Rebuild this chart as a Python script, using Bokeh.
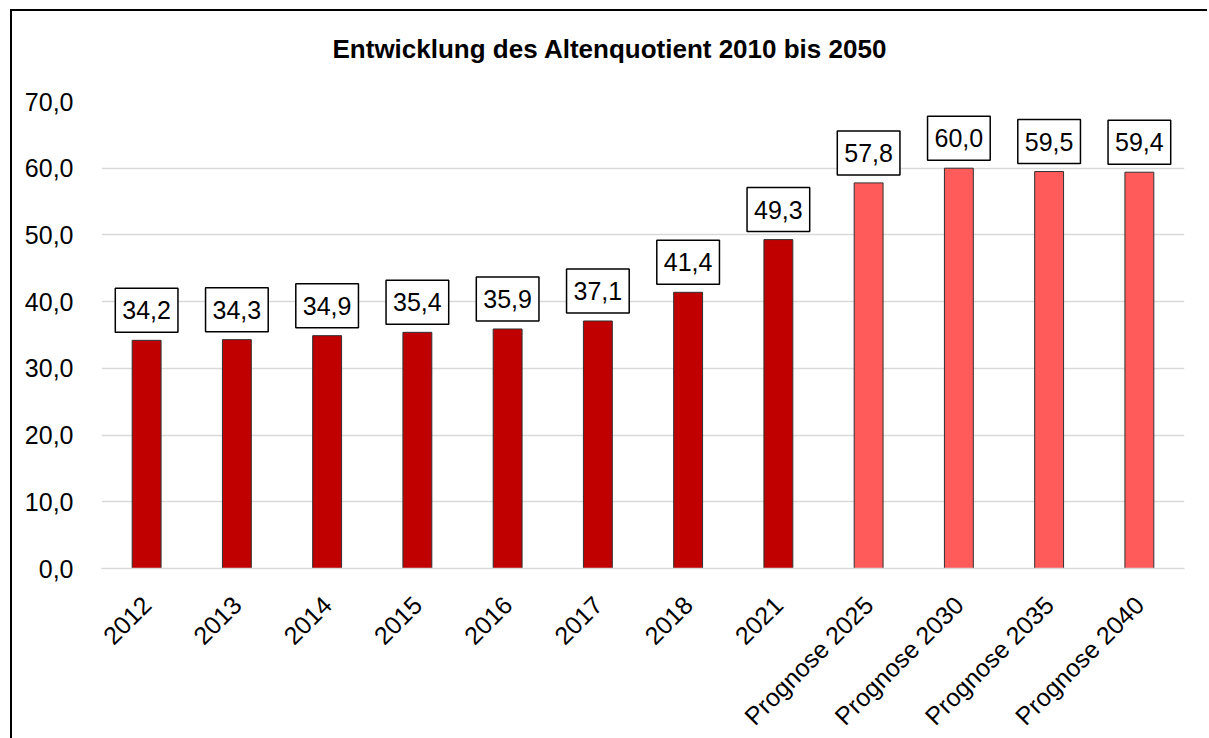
import math
from bokeh.plotting import figure
from bokeh.models import ColumnDataSource, FixedTicker, Title
from bokeh.core.properties import value
from bokeh.embed import file_html
from bokeh.resources import INLINE

# ---- data ----
categories = ["2012", "2013", "2014", "2015", "2016", "2017", "2018", "2021",
              "Prognose 2025", "Prognose 2030", "Prognose 2035", "Prognose 2040"]
values = [34.2, 34.3, 34.9, 35.4, 35.9, 37.1, 41.4, 49.3, 57.8, 60.0, 59.5, 59.4]
is_forecast = [False, False, False, False, False, False, False, False,
               True, True, True, True]
y_ticks = [0, 10, 20, 30, 40, 50, 60, 70]
y_tick_labels = ["0,0", "10,0", "20,0", "30,0", "40,0", "50,0", "60,0", "70,0"]
title_text = "Entwicklung des Altenquotient 2010 bis 2050"

HIST = "#C00000"
PROG = "#FF5B5B"
FONT = "Liberation Sans"

colors = [PROG if f else HIST for f in is_forecast]
labels = [f"{v:.1f}".replace(".", ",") for v in values]
src = ColumnDataSource(dict(cat=categories, val=values, color=colors, label=labels))

p = figure(x_range=categories, y_range=(0, 70),
           frame_width=1083, frame_height=467,
           min_border_left=89, min_border_top=0, min_border_right=23, min_border_bottom=160,
           output_backend="svg", toolbar_location=None, tools="")
p.title = None
# chart-area border: only left and top edges are visible in the reference
p.margin = (9, 0, 0, 10)
p.styles = {"border-left": "2px solid black", "border-top": "2px solid black"}
p.outline_line_color = None
p.background_fill_color = "white"
p.border_fill_color = "white"

p.vbar(x="cat", top="val", width=0.32, source=src, fill_color="color",
       line_color="#303030", line_width=1)

p.xgrid.grid_line_color = None
p.ygrid.grid_line_color = "#D9D9D9"
p.ygrid.grid_line_width = 1.5
p.yaxis.ticker = FixedTicker(ticks=y_ticks)
p.yaxis.major_label_overrides = {t: l for t, l in zip(y_ticks, y_tick_labels)}
p.yaxis.axis_line_color = None
p.yaxis.major_tick_line_color = None
p.yaxis.minor_tick_line_color = None
p.yaxis.major_label_standoff = 22
p.yaxis.major_label_text_font = FONT
p.yaxis.major_label_text_font_size = "25px"
p.yaxis.major_label_text_color = "black"

p.xaxis.axis_line_color = "#D9D9D9"
p.xaxis.axis_line_width = 1.5
p.xaxis.major_tick_line_color = None
p.xaxis.minor_tick_line_color = None
p.xaxis.major_label_orientation = math.pi / 4
p.xaxis.major_label_standoff = 26
p.xaxis.major_label_text_font = FONT
p.xaxis.major_label_text_font_size = "25px"
p.xaxis.major_label_text_color = "black"

p.text(x="cat", y="val", text="label", source=src,
       text_align="center", text_baseline="bottom", y_offset=-8,
       text_font=value(FONT), text_font_size="25px", text_color="black",
       background_fill_color="white", border_line_color="black",
       border_line_width=1.5, padding=dict(left=7, right=7, top=13, bottom=13))

# spacer panel between frame and title, then the title (outermost)
p.add_layout(Title(text=" ", text_font_size="2px", standoff=10), "above")
p.add_layout(Title(text=title_text, text_font=FONT, text_font_size="26px",
                   text_font_style="bold", text_color="black",
                   align="left", offset=231, vertical_align="top", standoff=44),
             "above")

open("out.html", "w").write(file_html(p, INLINE))
